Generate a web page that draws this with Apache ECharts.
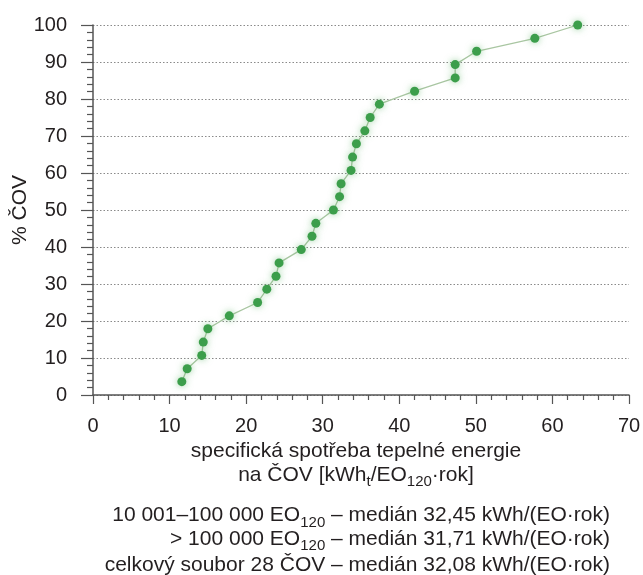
<!DOCTYPE html>
<html>
<head>
<meta charset="utf-8">
<script src="https://cdn.jsdelivr.net/npm/echarts@6/dist/echarts.min.js"></script>
<style>
html,body{margin:0;padding:0;background:#fff;}
#chart{width:643px;height:575px;}
</style>
</head>
<body>
<div id="chart"></div>
<script>
// Data
var xValues = [11.6, 12.3, 14.2, 14.4, 15.0, 17.8, 21.5, 22.7, 23.9, 24.3, 27.2, 28.6, 29.1, 31.4,
               32.2, 32.4, 33.7, 33.9, 34.4, 35.5, 36.2, 37.4, 42.0, 47.3, 47.3, 50.1, 57.7, 63.3];
var yValues = [3.6, 7.1, 10.7, 14.3, 17.9, 21.4, 25.0, 28.6, 32.1, 35.7, 39.3, 42.9, 46.4, 50.0,
               53.6, 57.1, 60.7, 64.3, 67.9, 71.4, 75.0, 78.6, 82.1, 85.7, 89.3, 92.9, 96.4, 100.0];
var xTicks = [0, 10, 20, 30, 40, 50, 60, 70];
var yTicks = [0, 10, 20, 30, 40, 50, 60, 70, 80, 90, 100];
var yAxisTitle = '% ČOV';
var xAxisTitle = 'specifická spotřeba tepelné energie\nna ČOV [kWh{sub|t}/EO{sub|120}·rok]';
var noteLines = [
  '10 001–100 000 EO{sub|120} – medián 32,45 kWh/(EO·rok)',
  '> 100 000 EO{sub|120} – medián 31,71 kWh/(EO·rok)',
  'celkový soubor 28 ČOV – medián 32,08 kWh/(EO·rok)'
];

var points = xValues.map(function (x, i) { return [x, yValues[i]]; });

var FONT = "'Liberation Sans', Arial, sans-serif";
var TXT = '#231f20';
var AX = '#555555';
var subStyle = { fontSize: 15, fontFamily: FONT, color: TXT, lineHeight: 10, padding: [14, 0, 0, 0] };
var noteTops = [501, 524.5, 553];

var chart = echarts.init(document.getElementById('chart'), null, { renderer: 'canvas' });
chart.setOption({
  animation: false,
  backgroundColor: '#ffffff',
  grid: { left: 93, right: 14, top: 25, bottom: 180, containLabel: false, outerBoundsMode: 'none' },
  xAxis: {
    type: 'value',
    min: xTicks[0],
    max: xTicks[xTicks.length - 1],
    interval: 10,
    name: xAxisTitle,
    nameLocation: 'middle',
    nameGap: 44,
    nameMoveOverlap: false,
    nameTextStyle: {
      fontSize: 21, fontFamily: FONT, color: TXT, lineHeight: 24, align: 'center',
      padding: [0, 10, 0, 0],
      rich: { sub: subStyle }
    },
    axisLine: { show: true, onZero: false, lineStyle: { color: AX, width: 1.5 } },
    axisTick: { show: true, inside: false, length: 9, lineStyle: { color: AX, width: 1.2 } },
    minorTick: { show: true, splitNumber: 5, length: 5, lineStyle: { color: AX, width: 1.2 } },
    axisLabel: { fontSize: 20, fontFamily: FONT, color: TXT, margin: 21 },
    splitLine: { show: false }
  },
  yAxis: {
    type: 'value',
    min: yTicks[0],
    max: yTicks[yTicks.length - 1],
    interval: 10,
    name: yAxisTitle,
    nameLocation: 'middle',
    nameGap: 62,
    nameMoveOverlap: false,
    nameTextStyle: { fontSize: 21, fontFamily: FONT, color: TXT },
    axisLine: { show: true, onZero: false, lineStyle: { color: AX, width: 1.5 } },
    axisTick: { show: true, inside: false, length: 12, lineStyle: { color: AX, width: 1.2 } },
    minorTick: { show: true, splitNumber: 5, length: 6, lineStyle: { color: AX, width: 1.2 } },
    axisLabel: { fontSize: 20, fontFamily: FONT, color: TXT, margin: 26 },
    splitLine: { show: true, lineStyle: { color: '#8a8a8a', width: 1.2, type: [1.5, 2] } }
  },
  series: [{
    type: 'line',
    data: points,
    symbol: 'circle',
    symbolSize: 9,
    showSymbol: true,
    lineStyle: { color: '#a9c6a2', width: 1.3 },
    itemStyle: {
      color: '#3c9e4b',
      shadowBlur: 7,
      shadowColor: 'rgba(70,170,80,0.55)'
    },
    z: 3
  }],
  graphic: noteLines.map(function (t, i) {
    return {
      type: 'text',
      right: 33,
      top: noteTops[i],
      style: {
        text: t,
        fontSize: 21,
        fontFamily: FONT,
        fill: TXT,
        align: 'right',
        lineHeight: 24,
        rich: { sub: { fontSize: 15, fontFamily: FONT, fill: TXT, lineHeight: 10, padding: [14, 0, 0, 0] } }
      }
    };
  })
});
</script>
</body>
</html>
